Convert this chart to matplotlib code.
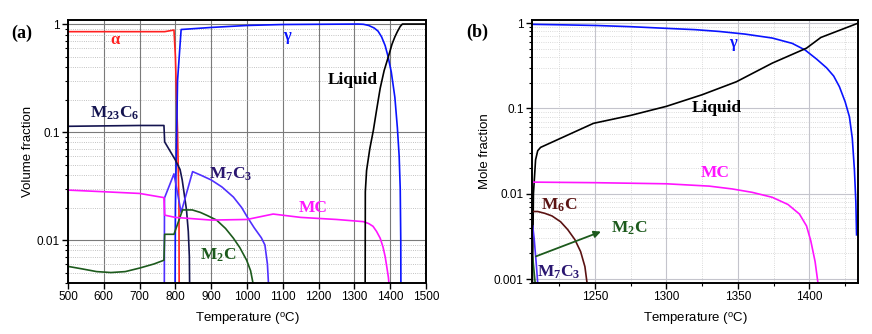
import matplotlib
matplotlib.use("Agg")
import matplotlib.pyplot as plt
from matplotlib.ticker import LogLocator, FixedLocator, NullFormatter, MultipleLocator

# ---------------- Panel (a) data: Volume fraction ----------------
a_alpha_T = [500, 770, 796, 800, 806, 810, 810.5]
a_alpha_v = [0.85, 0.85, 0.88, 0.5, 0.1, 0.02, 0.003]

a_gamma_T = [799, 800, 806, 816, 900, 1000, 1100, 1310, 1325, 1340, 1355, 1366, 1376, 1386,
             1394, 1403, 1413, 1420, 1425, 1428, 1429.5, 1430]
a_gamma_v = [0.003, 0.02, 0.3, 0.89, 0.93, 0.97, 0.99, 1.0, 0.995, 0.97, 0.92, 0.86, 0.76, 0.63,
             0.5, 0.36, 0.21, 0.11, 0.06, 0.03, 0.01, 0.003]

a_m23c6_T = [500, 600, 700, 768, 770, 800, 813, 819, 831, 836, 839, 840]
a_m23c6_v = [0.113, 0.114, 0.115, 0.115, 0.081, 0.055, 0.045, 0.036, 0.019, 0.012, 0.007, 0.003]

a_m7c3_T = [769, 769.5, 796, 816, 848, 870, 900, 930, 962, 985, 1000, 1020, 1040, 1050, 1057, 1062]
a_m7c3_v = [0.003, 0.0245, 0.041, 0.018, 0.043, 0.040, 0.036, 0.031, 0.025, 0.020, 0.0165, 0.013,
            0.0105, 0.009, 0.006, 0.003]

a_m2c_T = [500, 540, 580, 620, 660, 700, 740, 768, 770, 796, 820, 847, 870, 890, 915, 940, 962,
           980, 999, 1010, 1018]
a_m2c_v = [0.0057, 0.0054, 0.0051, 0.0050, 0.0051, 0.0055, 0.0060, 0.0065, 0.0113, 0.0113, 0.019,
           0.019, 0.018, 0.0168, 0.0153, 0.0128, 0.0104, 0.0085, 0.0065, 0.0052, 0.0038]

a_mc_T = [500, 600, 700, 768, 770, 800, 900, 1000, 1073, 1150, 1250, 1325, 1340, 1352, 1362, 1372,
          1380, 1386, 1391, 1395, 1398, 1400]
a_mc_v = [0.029, 0.028, 0.027, 0.0247, 0.017, 0.0162, 0.0153, 0.0155, 0.0174, 0.0162, 0.0155, 0.0148,
          0.0142, 0.0134, 0.012, 0.0104, 0.0086, 0.007, 0.0055, 0.0045, 0.0035, 0.003]

a_liq_T = [1330, 1330.5, 1334, 1343, 1353, 1362, 1372, 1383, 1395, 1405, 1413, 1420, 1428, 1434, 1500]
a_liq_v = [0.003, 0.028, 0.044, 0.07, 0.104, 0.16, 0.254, 0.37, 0.5, 0.65, 0.76, 0.85, 0.95, 1.0, 1.0]

# ---------------- Panel (b) data: Mole fraction ----------------
b_gamma_T = [1206, 1230, 1251, 1275, 1300, 1320, 1337, 1355, 1374, 1388, 1397, 1405, 1412, 1417,
             1421, 1425, 1428, 1430, 1431.5, 1432.5, 1433]
b_gamma_v = [0.97, 0.955, 0.94, 0.91, 0.87, 0.84, 0.80, 0.745, 0.67, 0.58, 0.485, 0.38, 0.30, 0.24,
             0.18, 0.12, 0.08, 0.045, 0.019, 0.008, 0.0033]

b_liq_T = [1206.3, 1207, 1208.5, 1210, 1212, 1230, 1249, 1275, 1300, 1325, 1349, 1374, 1398, 1408, 1434]
b_liq_v = [0.0009, 0.01, 0.025, 0.032, 0.035, 0.048, 0.067, 0.083, 0.106, 0.145, 0.206, 0.34, 0.51,
           0.68, 1.0]

b_mc_T = [1207, 1250, 1300, 1330, 1346, 1360, 1374, 1385, 1393, 1398, 1401, 1404, 1406]
b_mc_v = [0.0137, 0.0135, 0.0131, 0.0123, 0.0114, 0.0104, 0.0091, 0.0075, 0.0058, 0.0042, 0.0028,
          0.0016, 0.0009]

b_m6c_T = [1207, 1210, 1215, 1220, 1226, 1231, 1236, 1240, 1243, 1244.5]
b_m6c_v = [0.0062, 0.0062, 0.0059, 0.0055, 0.0047, 0.0038, 0.0029, 0.0021, 0.0014, 0.0009]

b_m7c3_T = [1206.5, 1207.5, 1209, 1210]
b_m7c3_v = [0.0042, 0.003, 0.0015, 0.0009]

b_m2c_T = [1206.5, 1207.5, 1208.2]
b_m2c_v = [0.0018, 0.0012, 0.0009]

# colours
C_ALPHA = "#ff2020"
C_GAMMA = "#0a14ff"
C_M23 = "#141450"
C_M7 = "#5030ff"
C_M7_LBL = "#2a1670"
C_M2 = "#1c5a1c"
C_MC = "#ff14ff"
C_LIQ = "#000000"
C_M6 = "#5a1212"

plt.rcParams['font.family'] = ['Liberation Sans', 'DejaVu Sans']
plt.rcParams['mathtext.fontset'] = 'custom'
plt.rcParams['mathtext.rm'] = 'Liberation Serif:bold'
plt.rcParams['mathtext.bf'] = 'Liberation Serif:bold'
plt.rcParams['mathtext.it'] = 'Liberation Serif:bold'
plt.rcParams['mathtext.sf'] = 'Liberation Sans'

fig = plt.figure(figsize=(8.72, 3.34), dpi=100)

W, H = 872.0, 334.0
axa = fig.add_axes([68 / W, (H - 283) / H, 358 / W, 263 / H])
axb = fig.add_axes([532 / W, (H - 283) / H, 326 / W, 263 / H])

serif = dict(family='Liberation Serif', fontweight='bold')


def style(ax, major_grid_color, minor_grid_color):
    ax.set_yscale('log')
    for s in ax.spines.values():
        s.set_linewidth(1.4)
        s.set_color('black')
    ax.tick_params(axis='both', which='major', direction='out', length=4, width=1.0,
                   labelsize=8.5, pad=2)
    ax.tick_params(axis='y', which='minor', direction='out', length=2.5, width=0.8)
    ax.tick_params(axis='x', which='minor', direction='out', length=2.5, width=0.8)
    ax.yaxis.set_major_locator(LogLocator(base=10, numticks=10))
    ax.yaxis.set_minor_locator(LogLocator(base=10, subs=range(2, 10), numticks=20))
    ax.yaxis.set_minor_formatter(NullFormatter())
    ax.grid(True, which='major', color=major_grid_color, lw=0.8, ls='-')
    ax.grid(True, which='minor', axis='y', color=minor_grid_color, lw=0.6, ls=':')
    ax.set_axisbelow(True)


XLABEL = 'Temperature ($^{\\mathsf{o}}$C)'

# ---------------- Panel (a) ----------------
lw = 1.2
axa.plot(a_alpha_T, a_alpha_v, color=C_ALPHA, lw=lw)
axa.plot(a_gamma_T, a_gamma_v, color=C_GAMMA, lw=lw)
axa.plot(a_m23c6_T, a_m23c6_v, color=C_M23, lw=lw)
axa.plot(a_m7c3_T, a_m7c3_v, color=C_M7, lw=lw)
axa.plot(a_m2c_T, a_m2c_v, color=C_M2, lw=lw)
axa.plot(a_mc_T, a_mc_v, color=C_MC, lw=lw)
axa.plot(a_liq_T, a_liq_v, color=C_LIQ, lw=lw)
axa.set_xlim(500, 1500)
axa.set_ylim(0.004, 1.09)
style(axa, '#7a7a7a', '#b0b0b0')
axa.xaxis.set_major_locator(MultipleLocator(100))
axa.set_yticks([0.01, 0.1, 1])
axa.set_yticklabels(['0.01', '0.1', '1'])
axa.set_xlabel(XLABEL, fontsize=9.5, labelpad=5)
axa.set_ylabel('Volume fraction', fontsize=9.5, labelpad=2)


def lbl(x, y, s, c, size=12.5):
    # x, y in figure pixels from top-left
    fig.text(x / W, 1 - y / H, s, color=c, ha='center', va='center', fontsize=size, **serif)


lbl(115, 40, 'α', C_ALPHA, 12)
lbl(287, 36, 'γ', C_GAMMA, 12)
lbl(353, 80, 'Liquid', C_LIQ)
lbl(115, 113, 'M$_{23}$C$_{6}$', C_M23)
lbl(231, 174, 'M$_{7}$C$_{3}$', C_M7_LBL)
lbl(313, 208, 'MC', C_MC)
lbl(218, 255, 'M$_{2}$C', C_M2)
fig.text(22 / W, 1 - 33 / H, '(a)', fontsize=13, ha='center', va='center', **serif)

# ---------------- Panel (b) ----------------
axb.plot(b_gamma_T, b_gamma_v, color=C_GAMMA, lw=lw)
axb.plot(b_liq_T, b_liq_v, color=C_LIQ, lw=lw)
axb.plot(b_mc_T, b_mc_v, color=C_MC, lw=lw)
axb.plot(b_m6c_T, b_m6c_v, color=C_M6, lw=lw)
axb.plot(b_m7c3_T, b_m7c3_v, color=C_M7, lw=lw)
axb.plot(b_m2c_T, b_m2c_v, color=C_M2, lw=lw)
axb.set_xlim(1206, 1434)
axb.set_ylim(0.0009, 1.09)
style(axb, '#c4c4cc', '#cfcfcf')
axb.xaxis.set_major_locator(FixedLocator([1250, 1300, 1350, 1400]))
axb.xaxis.set_minor_locator(MultipleLocator(25))
axb.grid(True, which='minor', axis='x', color='#cfcfcf', lw=0.6, ls=':')
axb.set_yticks([0.001, 0.01, 0.1, 1])
axb.set_yticklabels(['0.001', '0.01', '0.1', '1'])
axb.set_xlabel(XLABEL, fontsize=9.5, labelpad=5)
axb.set_ylabel('Mole fraction', fontsize=9.5, labelpad=2)

axb.annotate('', xy=(1256, 0.0037), xytext=(1207, 0.0018),
             arrowprops=dict(arrowstyle='-|>', color=C_M2, lw=1.3, mutation_scale=10))

lbl(733, 43, 'γ', C_GAMMA, 12)
lbl(717, 108, 'Liquid', C_LIQ)
lbl(715, 173, 'MC', C_MC)
lbl(559, 205, 'M$_{6}$C', C_M6)
lbl(629, 228, 'M$_{2}$C', C_M2)
lbl(559, 272, 'M$_{7}$C$_{3}$', C_M7_LBL)
fig.text(477 / W, 1 - 32 / H, '(b)', fontsize=13, ha='center', va='center', **serif)

fig.savefig('out.png', dpi=100)
